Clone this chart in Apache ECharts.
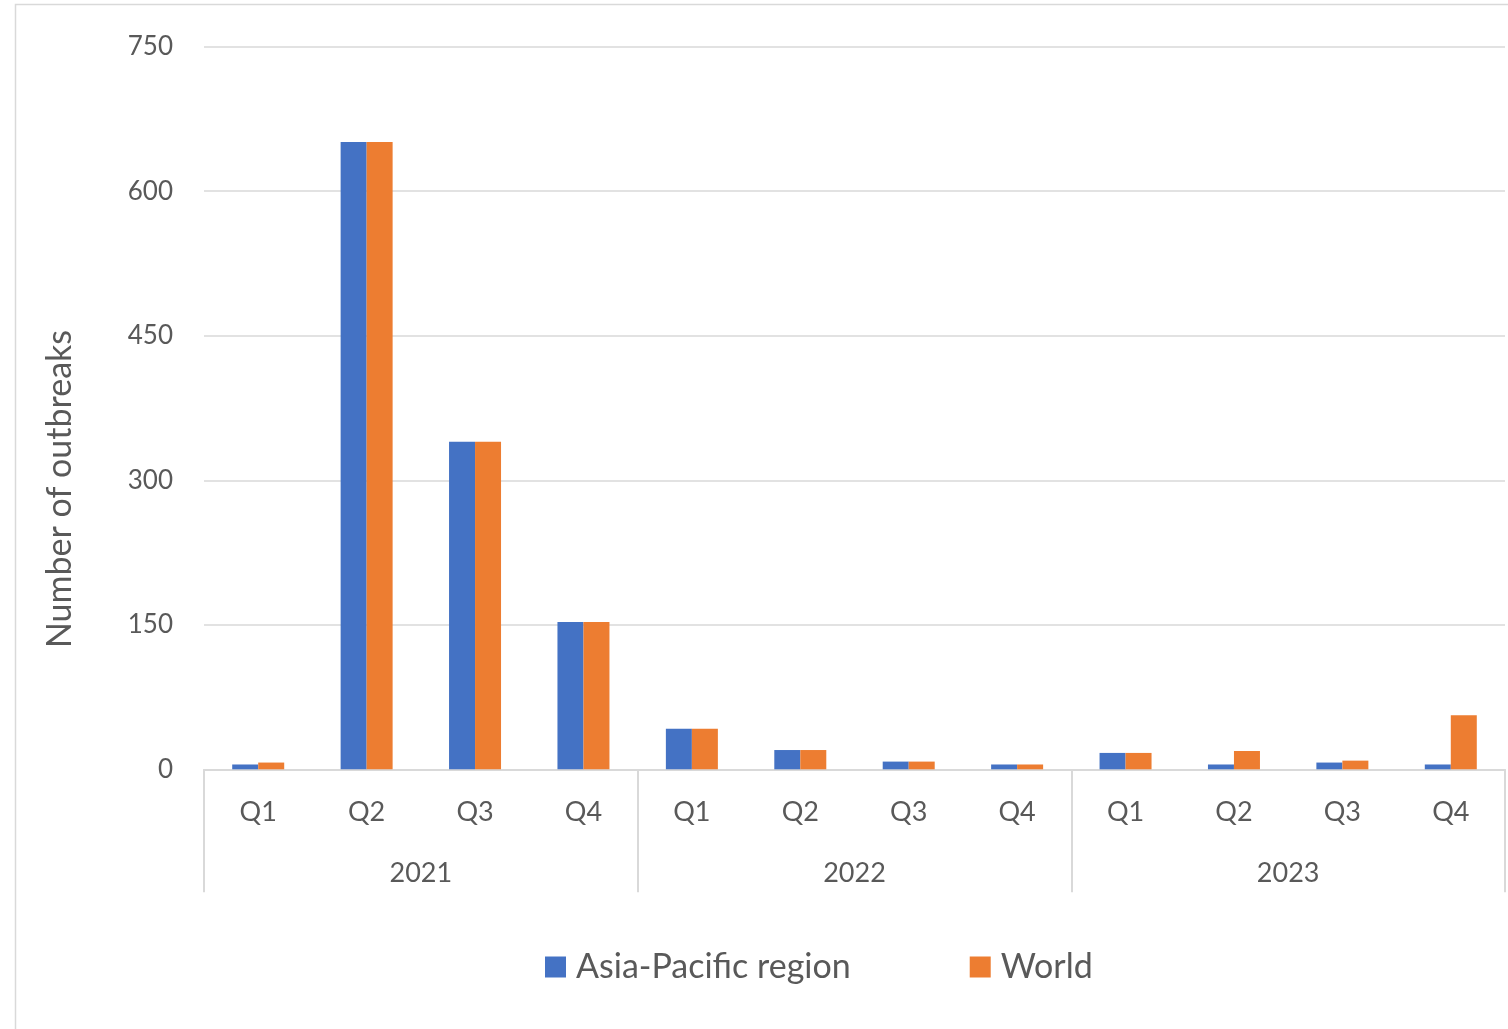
<!DOCTYPE html>
<html>
<head>
<meta charset="utf-8">
<script src="https://cdn.jsdelivr.net/npm/echarts@6/dist/echarts.min.js"></script>
<style>
  html, body { margin: 0; padding: 0; background: #fff; }
  #chart { width: 1508px; height: 1029px; }
</style>
</head>
<body>
<div id="chart"></div>
<script>
// Quarterly outbreak counts, 2021–2023
const quarters = ['Q1', 'Q2', 'Q3', 'Q4', 'Q1', 'Q2', 'Q3', 'Q4', 'Q1', 'Q2', 'Q3', 'Q4'];
const years = ['2021', '2022', '2023'];
const asiaPacific = [5, 651, 340, 153, 42, 20, 8, 5, 17, 5, 7, 5];
const world = [7, 651, 340, 153, 42, 20, 8, 5, 17, 19, 9, 56];
const yTicks = [0, 150, 300, 450, 600, 750];

const FONT = 'Lato, "Open Sans", sans-serif';
const TEXT = '#595959';
const LINE = '#d9d9d9';

const chart = echarts.init(document.getElementById('chart'), null, { renderer: 'canvas' });

chart.setOption({
  backgroundColor: '#ffffff',
  animation: false,
  textStyle: { fontFamily: FONT, color: TEXT },
  graphic: [{
    type: 'rect',
    silent: true,
    z: -10,
    shape: { x: 15.5, y: 4.5, width: 1600, height: 1100 },
    style: { fill: 'none', stroke: LINE, lineWidth: 1.5 }
  }],
  legend: {
    data: ['Asia-Pacific region', 'World'],
    left: 540,
    top: 945,
    itemWidth: 21,
    itemHeight: 21,
    itemGap: 119,
    icon: 'rect',
    textStyle: { fontFamily: FONT, fontSize: 34, color: TEXT, padding: [0, 0, 0, 5] }
  },
  grid: { left: 204, right: 3, top: 46.7, bottom: 259.7, containLabel: false },
  xAxis: [{
    type: 'category',
    data: quarters,
    position: 'bottom',
    axisLine: { show: true, lineStyle: { color: LINE, width: 2 } },
    axisTick: { show: false },
    axisLabel: { fontFamily: FONT, fontSize: 27, color: TEXT, margin: 29, interval: 0 }
  }, {
    type: 'category',
    data: years,
    position: 'bottom',
    offset: 0,
    axisLine: { show: false },
    axisTick: { show: true, length: 123, interval: 0, lineStyle: { color: LINE, width: 2 } },
    axisLabel: { fontFamily: FONT, fontSize: 27, color: TEXT, margin: 90, interval: 0 },
    splitLine: { show: false }
  }],
  yAxis: {
    type: 'value',
    min: yTicks[0],
    max: yTicks[yTicks.length - 1],
    interval: 150,
    name: 'Number of outbreaks',
    nameLocation: 'middle',
    nameGap: 127,
    nameRotate: 90,
    nameTextStyle: { fontFamily: FONT, fontSize: 34, color: TEXT, padding: [0, 162, 0, 0] },
    axisLine: { show: false },
    axisTick: { show: false },
    axisLabel: { fontFamily: FONT, fontSize: 26, color: TEXT, margin: 31 },
    splitLine: { lineStyle: { color: LINE, width: 1.5 } }
  },
  series: [{
    name: 'Asia-Pacific region',
    type: 'bar',
    xAxisIndex: 0,
    data: asiaPacific,
    barWidth: 26,
    barGap: '0%',
    itemStyle: { color: '#4472C4' }
  }, {
    name: 'World',
    type: 'bar',
    xAxisIndex: 0,
    data: world,
    barWidth: 26,
    barGap: '0%',
    itemStyle: { color: '#ED7D31' }
  }]
});
</script>
</body>
</html>
